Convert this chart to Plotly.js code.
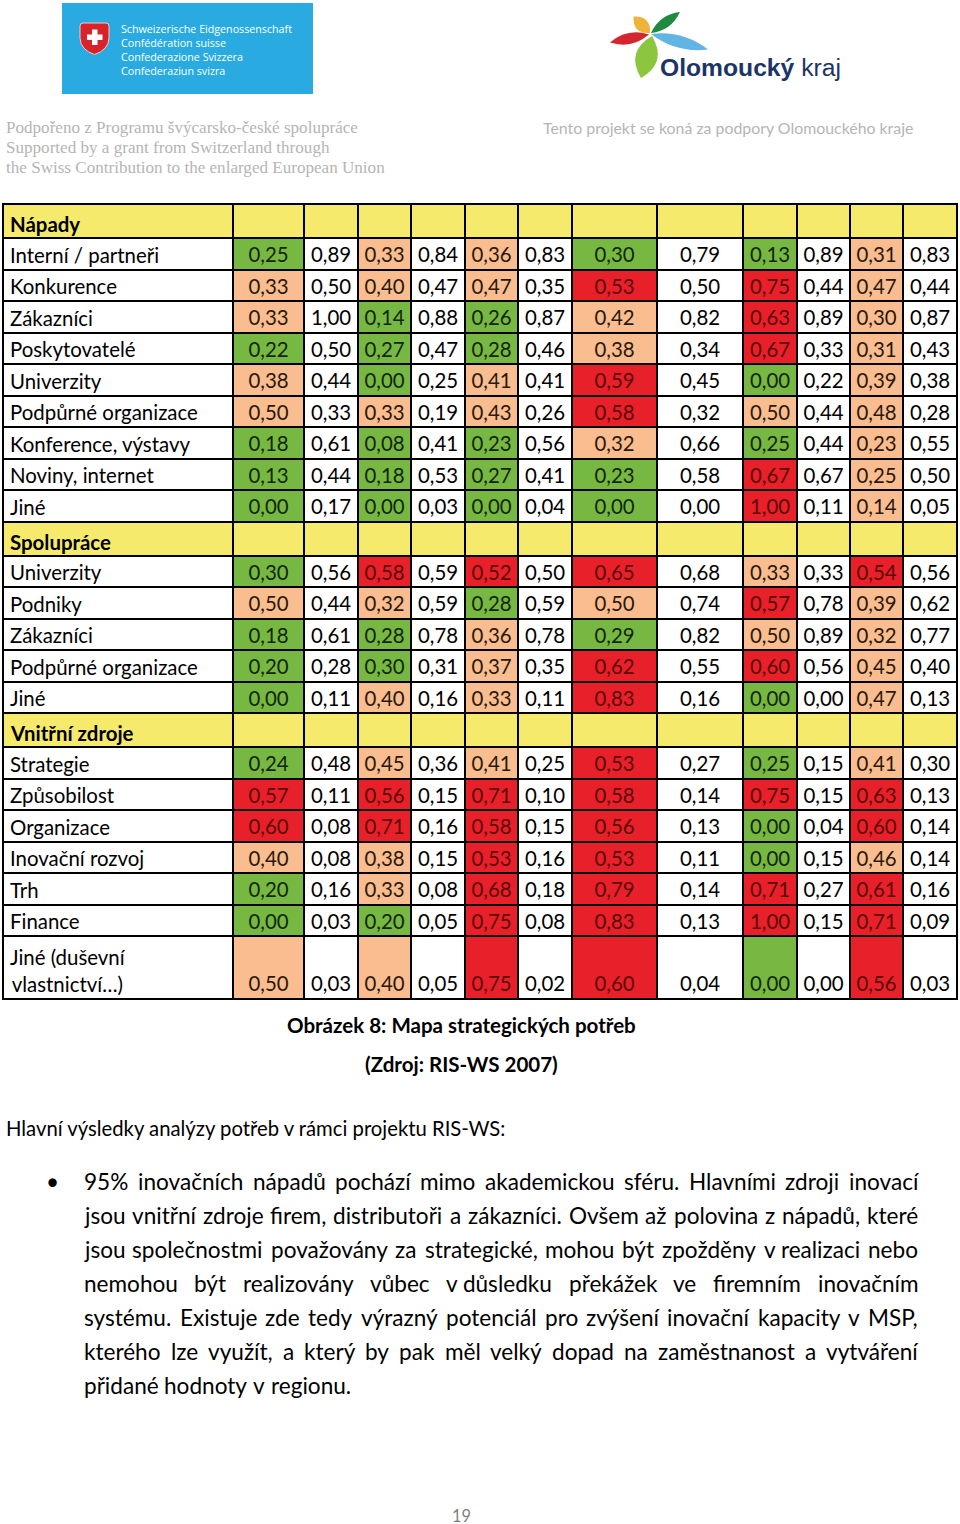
<!DOCTYPE html>
<html>
<head>
<meta charset="utf-8">
<script src="https://cdn.plot.ly/plotly-3.0.1.min.js"></script>
<style>
html,body{margin:0;padding:0;background:#ffffff;}
#chart{width:960px;height:1524px;}
</style>
</head>
<body>
<div id="chart"></div>
<script>
// ---------------- DATA ----------------
const sectionTitles = ['Nápady', 'Spolupráce', 'Vnitřní zdroje'];

const napadyLabels = ['Interní / partneři', 'Konkurence', 'Zákazníci', 'Poskytovatelé', 'Univerzity',
  'Podpůrné organizace', 'Konference, výstavy', 'Noviny, internet', 'Jiné'];
const napadyValues = [
  [0.25, 0.89, 0.33, 0.84, 0.36, 0.83, 0.30, 0.79, 0.13, 0.89, 0.31, 0.83],
  [0.33, 0.50, 0.40, 0.47, 0.47, 0.35, 0.53, 0.50, 0.75, 0.44, 0.47, 0.44],
  [0.33, 1.00, 0.14, 0.88, 0.26, 0.87, 0.42, 0.82, 0.63, 0.89, 0.30, 0.87],
  [0.22, 0.50, 0.27, 0.47, 0.28, 0.46, 0.38, 0.34, 0.67, 0.33, 0.31, 0.43],
  [0.38, 0.44, 0.00, 0.25, 0.41, 0.41, 0.59, 0.45, 0.00, 0.22, 0.39, 0.38],
  [0.50, 0.33, 0.33, 0.19, 0.43, 0.26, 0.58, 0.32, 0.50, 0.44, 0.48, 0.28],
  [0.18, 0.61, 0.08, 0.41, 0.23, 0.56, 0.32, 0.66, 0.25, 0.44, 0.23, 0.55],
  [0.13, 0.44, 0.18, 0.53, 0.27, 0.41, 0.23, 0.58, 0.67, 0.67, 0.25, 0.50],
  [0.00, 0.17, 0.00, 0.03, 0.00, 0.04, 0.00, 0.00, 1.00, 0.11, 0.14, 0.05]
];
// level of the highlighted (odd) columns: G = green, S = salmon, R = red
const napadyLevels = ['GSSGGS', 'SSSRRS', 'SGGSRS', 'GGGSRS', 'SGSRGS', 'SSSRSS', 'GGGSGS', 'GGGGRS', 'GGGGRS'];

const spolupraceLabels = ['Univerzity', 'Podniky', 'Zákazníci', 'Podpůrné organizace', 'Jiné'];
const spolupraceValues = [
  [0.30, 0.56, 0.58, 0.59, 0.52, 0.50, 0.65, 0.68, 0.33, 0.33, 0.54, 0.56],
  [0.50, 0.44, 0.32, 0.59, 0.28, 0.59, 0.50, 0.74, 0.57, 0.78, 0.39, 0.62],
  [0.18, 0.61, 0.28, 0.78, 0.36, 0.78, 0.29, 0.82, 0.50, 0.89, 0.32, 0.77],
  [0.20, 0.28, 0.30, 0.31, 0.37, 0.35, 0.62, 0.55, 0.60, 0.56, 0.45, 0.40],
  [0.00, 0.11, 0.40, 0.16, 0.33, 0.11, 0.83, 0.16, 0.00, 0.00, 0.47, 0.13]
];
const spolupraceLevels = ['GRRRSR', 'SSGSRS', 'GGSGSS', 'GGSRRS', 'GSSRGS'];

const zdrojeLabels = ['Strategie', 'Způsobilost', 'Organizace', 'Inovační rozvoj', 'Trh', 'Finance',
  'Jiné (duševní<br>vlastnictví…)'];
const zdrojeValues = [
  [0.24, 0.48, 0.45, 0.36, 0.41, 0.25, 0.53, 0.27, 0.25, 0.15, 0.41, 0.30],
  [0.57, 0.11, 0.56, 0.15, 0.71, 0.10, 0.58, 0.14, 0.75, 0.15, 0.63, 0.13],
  [0.60, 0.08, 0.71, 0.16, 0.58, 0.15, 0.56, 0.13, 0.00, 0.04, 0.60, 0.14],
  [0.40, 0.08, 0.38, 0.15, 0.53, 0.16, 0.53, 0.11, 0.00, 0.15, 0.46, 0.14],
  [0.20, 0.16, 0.33, 0.08, 0.68, 0.18, 0.79, 0.14, 0.71, 0.27, 0.61, 0.16],
  [0.00, 0.03, 0.20, 0.05, 0.75, 0.08, 0.83, 0.13, 1.00, 0.15, 0.71, 0.09],
  [0.50, 0.03, 0.40, 0.05, 0.75, 0.02, 0.60, 0.04, 0.00, 0.00, 0.56, 0.03]
];
const zdrojeLevels = ['GSSRGS', 'RRRRRR', 'RRRRGR', 'SSRRGS', 'GSRRRR', 'GGRRRR', 'SSRRGR'];

const headerLeftLines = ['Podpořeno z Programu švýcarsko-české spolupráce',
  'Supported by a grant from Switzerland through',
  'the Swiss Contribution to the enlarged European Union'];
const headerRightText = 'Tento projekt se koná za podpory Olomouckého kraje';
const swissLines = ['Schweizerische Eidgenossenschaft', 'Confédération suisse', 'Confederazione Svizzera', 'Confederaziun svizra'];
const captionLines = ['Obrázek 8: Mapa strategických potřeb', '(Zdroj: RIS-WS 2007)'];
const introText = 'Hlavní výsledky analýzy potřeb v rámci projektu RIS-WS:';
const bodyLines = [
  '95% inovačních nápadů pochází mimo akademickou sféru. Hlavními zdroji inovací',
  'jsou vnitřní zdroje firem, distributoři a zákazníci. Ovšem až polovina z nápadů, které',
  'jsou společnostmi považovány za strategické, mohou být zpožděny v\u00a0realizaci nebo',
  'nemohou být realizovány vůbec v\u00a0důsledku překážek ve firemním inovačním',
  'systému. Existuje zde tedy výrazný potenciál pro zvýšení inovační kapacity v MSP,',
  'kterého lze využít, a který by pak měl velký dopad na zaměstnanost a vytváření',
  'přidané hodnoty v regionu.'
];
const pageNumber = '19';

// ---------------- LAYOUT / STYLE ----------------
const COL_EDGES = [3, 233, 304, 358, 411, 465, 518, 572, 657, 743, 797, 850, 903, 957];
const TABLE_TOP = 204;
const HEAD_H = 34, ROW_H = 31.5, DOUBLE_H = 63;
const FILL = {W: '#ffffff', Y: '#f5ea6b', G: '#77b843', S: '#f9bd8f', R: '#e8202a'};
const TEXTCOL = {W: '#000000', G: '#13260a', S: '#2a180c', R: '#5a0707'};
const LEVEL_INDEX = {W: 0, Y: 1, G: 2, S: 3, R: 4};
const GRAY = '#b5b5b5';

const ctx = document.createElement('canvas').getContext('2d');
function textWidth(t, size, family, weight) {
  ctx.font = (weight || 'normal') + ' ' + size + 'px ' + family;
  return ctx.measureText(t).width;
}
function fitSize(t, family, weight, target) {
  return target / textWidth(t, 100, family, weight) * 100;
}
const fmt = v => v.toFixed(2).replace('.', ',');

// ---------------- TABLE ROWS ----------------
const sections = [
  {title: sectionTitles[0], labels: napadyLabels, values: napadyValues, levels: napadyLevels},
  {title: sectionTitles[1], labels: spolupraceLabels, values: spolupraceValues, levels: spolupraceLevels},
  {title: sectionTitles[2], labels: zdrojeLabels, values: zdrojeValues, levels: zdrojeLevels}
];
const rows = [];
sections.forEach(sec => {
  rows.push({kind: 'head', label: sec.title});
  sec.labels.forEach((lab, i) => rows.push({kind: 'data', label: lab, values: sec.values[i], levels: sec.levels[i]}));
});
const yEdges = [TABLE_TOP];
rows.forEach(r => {
  const h = r.kind === 'head' ? HEAD_H : (r.label.indexOf('<br>') >= 0 ? DOUBLE_H : ROW_H);
  r.top = yEdges[yEdges.length - 1];
  r.h = h;
  yEdges.push(r.top + h);
});
const TABLE_BOTTOM = yEdges[yEdges.length - 1];

const z = rows.map(r => {
  if (r.kind === 'head') return COL_EDGES.slice(1).map(() => LEVEL_INDEX.Y);
  return [LEVEL_INDEX.W].concat(r.values.map((v, j) => j % 2 === 0 ? LEVEL_INDEX[r.levels[j / 2]] : LEVEL_INDEX.W));
});

const colorscale = [
  [0, FILL.W], [0.125, FILL.W], [0.125, FILL.Y], [0.375, FILL.Y],
  [0.375, FILL.G], [0.625, FILL.G], [0.625, FILL.S], [0.875, FILL.S], [0.875, FILL.R], [1, FILL.R]
];

const tableFont = fitSize('Podpůrné organizace', 'Lato', 'normal', 188);

const valX = [], valY = [], valText = [], valColor = [];
rows.forEach(r => {
  if (r.kind !== 'data') return;
  const double = r.h > ROW_H + 1;
  r.values.forEach((v, j) => {
    valX.push((COL_EDGES[j + 1] + COL_EDGES[j + 2]) / 2);
    valY.push(double ? r.top + r.h - 13.5 : r.top + r.h / 2 + 3.5);
    valText.push(fmt(v));
    valColor.push(j % 2 === 0 ? TEXTCOL[r.levels[j / 2]] : TEXTCOL.W);
  });
});

const traces = [
  {
    type: 'heatmap', x: COL_EDGES, y: yEdges, z: z, zmin: 0, zmax: 4,
    colorscale: colorscale, showscale: false, xgap: 2, ygap: 2, hoverinfo: 'skip'
  },
  {
    type: 'scatter', mode: 'text', x: valX, y: valY, text: valText,
    textposition: 'middle center', hoverinfo: 'skip', showlegend: false,
    textfont: {family: 'Lato', size: tableFont, color: valColor}
  }
];

// ---------------- ANNOTATIONS ----------------
const annotations = [];
function ann(text, x, y, opts) {
  annotations.push(Object.assign({
    text: text, x: x, y: y, xref: 'x', yref: 'y', showarrow: false,
    xanchor: 'left', yanchor: 'middle', borderpad: 0,
    font: {family: 'Lato', size: 16, color: '#000'}
  }, opts || {}));
}

rows.forEach(r => {
  const isHead = r.kind === 'head';
  const double = r.h > ROW_H + 1;
  ann(isHead ? '<b>' + r.label + '</b>' : r.label, 9, r.top + r.h / 2 + (double ? 3 : 1), {
    font: {family: 'Lato', size: tableFont, color: '#000'}
  });
});

// header left (serif, gray)
const serifSize = fitSize(headerLeftLines[2], '"Liberation Serif"', 'normal', 379);
headerLeftLines.forEach((t, i) => ann(t, 5, 127 + 20 * i, {font: {family: 'Liberation Serif', size: serifSize, color: GRAY}}));
// header right
ann(headerRightText, 542, 127, {font: {family: 'Lato', size: fitSize(headerRightText, 'Lato', 'normal', 371), color: GRAY}});
// swiss text
const swissSize = fitSize(swissLines[0], '"Open Sans"', 'normal', 171);
swissLines.forEach((t, i) => ann(t, 120, 28.5 + 14 * i, {font: {family: 'Open Sans', size: swissSize, color: '#ffffff'}}));
// Olomoucky kraj
const okW = textWidth('Olomoucký', 100, '"Liberation Sans"', 'bold') + textWidth(' kraj', 100, '"Liberation Sans"', 'normal');
const okSize = 181 / okW * 100;
ann('<b>Olomoucký</b> kraj', 659, 67.5, {font: {family: 'Liberation Sans', size: okSize, color: '#1b3567'}});

// caption
const capSize = fitSize(captionLines[0], 'Lato', 'bold', 349);
ann('<b>' + captionLines[0] + '</b>', 461, 1025, {xanchor: 'center', font: {family: 'Lato', size: capSize, color: '#000'}});
ann('<b>' + captionLines[1] + '</b>', 461, 1064, {xanchor: 'center', font: {family: 'Lato', size: capSize, color: '#000'}});
// intro
ann(introText, 5, 1128, {font: {family: 'Lato', size: fitSize(introText, 'Lato', 'normal', 502), color: '#000'}});

// body justified
const BODY_L = 83, BODY_R = 917, BODY_TOP = 1181, BODY_STEP = 34;
let bodySize = fitSize(bodyLines[6], 'Lato', 'normal', 267);
bodyLines.slice(0, 6).forEach(line => {
  const words = line.split(' ');
  const w100 = words.reduce((s, w) => s + textWidth(w, 100, 'Lato', 'normal'), 0);
  const maxS = (BODY_R - BODY_L - 4 * (words.length - 1)) / w100 * 100;
  bodySize = Math.min(bodySize, maxS);
});
bodyLines.forEach((line, i) => {
  const y = BODY_TOP + BODY_STEP * i;
  const words = line.split(' ');
  const widths = words.map(w => textWidth(w, bodySize, 'Lato', 'normal'));
  const total = widths.reduce((a, b) => a + b, 0);
  const gap = i < bodyLines.length - 1 ? (BODY_R - BODY_L - total) / (words.length - 1) : textWidth(' ', bodySize, 'Lato', 'normal');
  let x = BODY_L;
  words.forEach((w, k) => {
    ann(w, x, y, {font: {family: 'Lato', size: bodySize, color: '#000'}});
    x += widths[k] + gap;
  });
});
ann('•', 52, BODY_TOP, {xanchor: 'center', font: {family: 'Lato', size: bodySize, color: '#000'}});
// page number
ann(pageNumber, 461, 1515, {xanchor: 'center', font: {family: 'Lato', size: fitSize(pageNumber, 'Lato', 'normal', 19), color: '#7f7f7f'}});

// ---------------- SHAPES (logos, table frame) ----------------
function leaf(x1, y1, x2, y2, off, color) {
  const mx = (x1 + x2) / 2, my = (y1 + y2) / 2;
  const dx = x2 - x1, dy = y2 - y1, L = Math.hypot(dx, dy);
  const nx = -dy / L, ny = dx / L;
  const c1x = mx + nx * off, c1y = my + ny * off, c2x = mx - nx * off, c2y = my - ny * off;
  return {type: 'path', xref: 'x', yref: 'y', line: {width: 0}, fillcolor: color,
    path: `M${x1},${y1} Q${c1x},${c1y} ${x2},${y2} Q${c2x},${c2y} ${x1},${y1} Z`};
}
const shapes = [
  // table underlay (grid lines) and frame
  {type: 'rect', xref: 'x', yref: 'y', x0: COL_EDGES[0], x1: COL_EDGES[COL_EDGES.length - 1], y0: TABLE_TOP, y1: TABLE_BOTTOM,
    fillcolor: '#000', line: {width: 0}, layer: 'below'},
  {type: 'rect', xref: 'x', yref: 'y', x0: COL_EDGES[0], x1: COL_EDGES[COL_EDGES.length - 1], y0: TABLE_TOP, y1: TABLE_BOTTOM,
    fillcolor: 'rgba(0,0,0,0)', line: {width: 2, color: '#000'}, layer: 'above'},
  // swiss logo
  {type: 'rect', xref: 'x', yref: 'y', x0: 62, x1: 313, y0: 3, y1: 94, fillcolor: '#29abe2', line: {width: 0}},
  {type: 'path', xref: 'x', yref: 'y', fillcolor: '#d8232a', line: {width: 1, color: '#f3c9c9'},
    path: 'M80,26 Q80,23 83,23 L106,23 Q109,23 109,26 L109,38 Q108.5,50 94.5,54.5 Q80.5,50 80,38 Z'},
  {type: 'rect', xref: 'x', yref: 'y', x0: 92, x1: 97.5, y0: 29.5, y1: 45, fillcolor: '#ffffff', line: {width: 0}},
  {type: 'rect', xref: 'x', yref: 'y', x0: 87, x1: 102.5, y0: 34.5, y1: 40, fillcolor: '#ffffff', line: {width: 0}},
  // olomoucky kraj flower
  leaf(610, 42.5, 649, 34.5, 11, '#d5262d'),
  leaf(633.5, 16.5, 650, 33, 13, '#f0b33a'),
  leaf(651, 33, 680, 12, 10, '#1d8a3f'),
  leaf(651, 34, 708, 49.5, 12, '#62b5e2'),
  leaf(652, 36, 641, 78, 22, '#8cc63f')
];

const layout = {
  width: 960, height: 1524, autosize: false,
  margin: {l: 0, r: 0, t: 0, b: 0, pad: 0},
  paper_bgcolor: '#ffffff', plot_bgcolor: '#ffffff',
  xaxis: {range: [0, 960], visible: false, fixedrange: true},
  yaxis: {range: [1524, 0], visible: false, fixedrange: true},
  showlegend: false,
  annotations: annotations,
  shapes: shapes
};

Plotly.newPlot('chart', traces, layout, {staticPlot: true, displayModeBar: false});
</script>
</body>
</html>
